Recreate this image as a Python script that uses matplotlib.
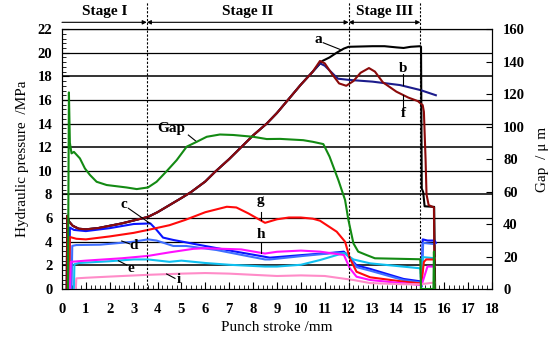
import matplotlib
matplotlib.use("Agg")
import matplotlib.pyplot as plt
from matplotlib.ticker import MultipleLocator

plt.rcParams['font.family'] = ['Liberation Serif', 'DejaVu Serif']
plt.rcParams['font.weight'] = 'bold'

# shared rising part of curves a, b, f (punch stroke mm, MPa)
ramp_x = [0.2, 0.22, 0.3, 0.45, 0.7, 1.0, 1.5, 2.0, 2.5, 3.0, 3.6, 4.0, 4.5, 5.0, 5.4,
          6.0, 6.4, 7.0, 7.5, 8.0, 8.57, 9.0, 9.5, 10.0, 10.5]
ramp_y = [0, 6.2, 5.7, 5.35, 5.1, 5.05, 5.15, 5.35, 5.55, 5.8, 6.1, 6.5, 7.1, 7.7, 8.2,
          9.1, 9.9, 11.0, 12.0, 13.0, 14.0, 14.9, 16.1, 17.3, 18.4]

a_x = [10.9, 11.2, 11.5, 11.8, 12.0, 13.0, 13.5, 14.0, 14.3, 14.6, 15.0, 15.03, 15.06,
       15.12, 15.18, 15.58, 15.62]
a_y = [19.3, 19.6, 20.0, 20.35, 20.5, 20.55, 20.55, 20.45, 20.4, 20.5, 20.55, 20.5, 8.5,
       8.2, 7.0, 6.95, 0]

b_x = [10.8, 11.0, 11.3, 11.55, 12.0, 13.0, 14.15, 15.0, 15.65]
b_y = [19.1, 18.9, 18.3, 17.8, 17.7, 17.55, 17.26, 16.84, 16.4]

f_x = [10.8, 11.0, 11.3, 11.6, 11.9, 12.2, 12.5, 12.85, 13.1, 13.43, 14.0, 14.5, 14.9,
       15.1, 15.15, 15.22, 15.26, 15.35, 15.57, 15.6]
f_y = [19.3, 19.1, 18.2, 17.4, 17.2, 17.6, 18.3, 18.7, 18.4, 17.5, 16.7, 16.2, 15.9,
       15.56, 15.0, 11.0, 8.0, 7.1, 6.9, 0]

c_x = [0.3, 0.33, 0.5, 1.0, 2.0, 3.0, 3.7, 3.96, 4.23, 4.66, 5.78, 7.17, 8.29, 8.7,
       10.1, 11.35, 11.8, 12.0, 12.33, 12.9, 14.3, 15.0, 15.05, 15.1, 15.3, 15.6, 15.65]
c_y = [0, 5.2, 5.0, 4.9, 5.15, 5.5, 5.55, 5.0, 4.35, 4.15, 3.72, 3.2, 2.8, 2.65,
       2.88, 3.07, 3.16, 2.75, 2.0, 1.7, 0.85, 0.65, 0.2, 4.2, 4.1, 4.1, 3.9]

d_x = [0.4, 0.43, 0.6, 1.6, 2.98, 3.6, 3.96, 4.66, 5.2, 6.47, 7.73, 8.5, 8.7, 10.1,
       11.5, 11.9, 12.1, 12.33, 12.9, 14.3, 15.0, 15.05, 15.12, 15.6]
d_y = [0, 3.65, 3.72, 3.75, 4.0, 4.2, 4.1, 3.64, 3.64, 3.3, 2.8, 2.5, 2.5, 2.8,
       3.07, 3.0, 2.5, 1.85, 1.55, 0.75, 0.55, 0.2, 3.9, 3.8]

e_x = [0.5, 0.52, 0.7, 2.0, 3.0, 3.6, 4.5, 5.0, 6.0, 7.0, 8.5, 9.0, 10.0, 10.8, 11.8,
       12.2, 12.9, 14.3, 15.0, 15.05, 15.1, 15.6]
e_y = [0, 2.1, 2.2, 2.35, 2.5, 2.5, 2.3, 2.4, 2.2, 2.05, 1.9, 1.9, 2.05, 2.45, 3.05,
       2.5, 2.17, 1.89, 1.75, 0.3, 2.7, 2.6]

g_x = [0.3, 0.33, 0.6, 1.0, 2.0, 3.0, 3.6, 4.5, 5.15, 6.0, 6.9, 7.3, 7.8, 8.5, 9.0,
       9.5, 10.0, 10.5, 10.8, 11.5, 11.85, 12.05, 12.33, 12.9, 14.3, 15.0, 15.05,
       15.15, 15.25, 15.6]
g_y = [0, 4.4, 4.25, 4.2, 4.45, 4.75, 5.0, 5.4, 5.84, 6.5, 6.96, 6.9, 6.4, 5.6, 5.9,
       6.05, 6.05, 5.95, 5.78, 4.85, 4.0, 2.6, 1.46, 0.99, 0.62, 0.48, 0.5,
       2.3, 2.5, 2.5]

h_x = [0.33, 0.37, 1.0, 2.5, 3.6, 4.5, 5.5, 6.0, 7.5, 8.5, 9.0, 10.0, 10.8, 11.8,
       12.05, 12.33, 12.9, 14.3, 15.0, 15.05, 15.3, 15.6]
h_y = [0, 2.3, 2.4, 2.6, 2.8, 3.1, 3.4, 3.45, 3.35, 3.0, 3.15, 3.25, 3.16, 2.88,
       1.75, 1.04, 0.76, 0.48, 0.34, 0.3, 1.9, 1.9]

i_x = [0.58, 0.6, 1.0, 2.0, 3.6, 5.0, 6.0, 7.0, 8.5, 9.0, 10.0, 11.0, 12.2, 12.9,
       14.3, 15.0, 15.6]
i_y = [0, 0.9, 0.95, 1.05, 1.2, 1.3, 1.35, 1.3, 1.15, 1.1, 1.15, 1.1, 0.76, 0.5,
       0.4, 0.4, 0.55]

# gap (um, right axis)
gap_x = [0.25, 0.29, 0.33, 0.4, 0.5, 0.75, 0.96, 1.17, 1.45, 1.87, 2.7, 3.13, 3.6,
         3.96, 4.38, 4.8, 5.22, 5.64, 6.06, 6.61, 7.17, 8.0, 8.57, 9.13, 10.1, 10.5,
         10.94, 11.2, 11.57, 11.85, 11.99, 12.2, 12.4, 12.75, 13.1, 15.0, 15.03,
         15.55, 15.57, 15.6]
gap_y = [0, 121, 90, 83.5, 84.4, 80.4, 74.2, 70.2, 66, 64, 62.5, 61.5, 62.5,
         66, 72.5, 79.3, 87.6, 90.6, 93.7, 95.1, 94.8, 93.7, 92.3, 92.4, 91.6, 90.6,
         89.2, 81.5, 67, 54.8, 42.5, 28.1, 23, 20.9, 18.9, 18.3, 0,
         0, 23, 0]

stage_bounds = [0, 3.55, 12.0, 15.0]
stage_names = ['Stage I', 'Stage II', 'Stage III']

fig = plt.figure(figsize=(5.5, 3.42), dpi=100)
ax = fig.add_axes([0.1127, 0.155, 0.7818, 0.76])

for yv in range(2, 23, 2):
    heavy = yv in (2, 8, 12, 18)
    ax.axhline(yv, color='#333333' if heavy else 'black', lw=1.4 if heavy else 0.9, zorder=1)

ax.plot(ramp_x + a_x, ramp_y + a_y, color='black', lw=1.5, zorder=3)
ax.plot(ramp_x + b_x, ramp_y + b_y, color='#1c1c8c', lw=1.5, zorder=3)
ax.plot(ramp_x + f_x, ramp_y + f_y, color='#8b0a0a', lw=1.5, zorder=4)
ax.plot(c_x, c_y, color='#0a14ff', lw=1.5, zorder=3)
ax.plot(d_x, d_y, color='#3f6fff', lw=1.5, zorder=3)
ax.plot(e_x, e_y, color='#10c0f0', lw=1.5, zorder=3)
ax.plot(g_x, g_y, color='#ff0a0a', lw=1.5, zorder=3)
ax.plot(h_x, h_y, color='#ff10ff', lw=1.5, zorder=3)
ax.plot(i_x, i_y, color='#ff8cc8', lw=1.5, zorder=3)

ax.set_xlim(0, 18)
ax.set_ylim(0, 22)
ax.xaxis.set_major_locator(MultipleLocator(1))
ax.xaxis.set_minor_locator(MultipleLocator(0.2))
ax.yaxis.set_major_locator(MultipleLocator(2))
ax.yaxis.set_minor_locator(MultipleLocator(0.4))
ax.tick_params(which='both', direction='in', labelsize=10.5)
ax.tick_params(which='major', length=5)
ax.tick_params(which='minor', length=3)
ax.tick_params(axis='x', which='both', top=False, pad=10)
ax.tick_params(axis='y', which='both', pad=7)
ax.set_xlabel('Punch stroke /mm', fontsize=11, labelpad=4)
ax.set_ylabel('Hydraulic pressure  /MPa', fontsize=11, labelpad=6)

ax2 = ax.twinx()
ax2.plot(gap_x, gap_y, color='#138a13', lw=1.5, zorder=3)
ax2.set_ylim(0, 160)
ax2.yaxis.set_major_locator(MultipleLocator(20))
ax2.tick_params(which='both', direction='in', labelsize=10.5, length=4, pad=8)
ax2.set_ylabel('Gap  / μ m', fontsize=11, labelpad=8)

# stage boundaries and brackets
for xb in stage_bounds[1:]:
    ax.plot([xb, xb], [0, 1.105], transform=ax.get_xaxis_transform(), color='black',
            lw=0.8, ls=(0, (2, 1.5)), clip_on=False, zorder=5)
for k, name in enumerate(stage_names):
    x0, x1 = stage_bounds[k], stage_bounds[k + 1]
    style = '-|>' if k == 0 else '<|-|>'
    ax.annotate('', xy=(x1, 1.026), xytext=(x0, 1.026),
                xycoords=ax.get_xaxis_transform(), textcoords=ax.get_xaxis_transform(),
                arrowprops=dict(arrowstyle=style, color='black', lw=0.8,
                                shrinkA=0, shrinkB=0, mutation_scale=6))
    ax.text((x0 + x1) / 2, 1.066, name, transform=ax.get_xaxis_transform(),
            ha='center', va='center', fontsize=11)

# curve labels with leader lines
labels = [
    ('a', 10.72, 21.13, 10.94, 20.84, 11.71, 20.22),
    ('b', 14.29, 18.68, 14.26, 18.19, 14.26, 17.26),
    ('f', 14.29, 14.87, 14.26, 16.42, 14.26, 15.43),
    ('Gap', 4.59, 13.6, 5.29, 13.03, 5.64, 12.46),
    ('c', 2.6, 7.17, 2.78, 6.83, 3.68, 5.56),
    ('d', 2.98, 3.64, 2.5, 4.06, 2.85, 3.81),
    ('e', 2.88, 1.75, 2.36, 2.39, 2.71, 2.03),
    ('g', 8.32, 7.47, 8.32, 6.54, 8.32, 5.84),
    ('h', 8.32, 4.57, 8.32, 3.89, 8.32, 3.07),
    ('i', 4.9, 0.82, 4.38, 1.27, 4.73, 0.9),
]
for txt, tx, ty, lx0, ly0, lx1, ly1 in labels:
    ax.text(tx, ty, txt, ha='center', va='center', fontsize=11, zorder=6)
    ax.plot([lx0, lx1], [ly0, ly1], color='black', lw=0.8, zorder=6)

fig.savefig('out.png', dpi=100)
